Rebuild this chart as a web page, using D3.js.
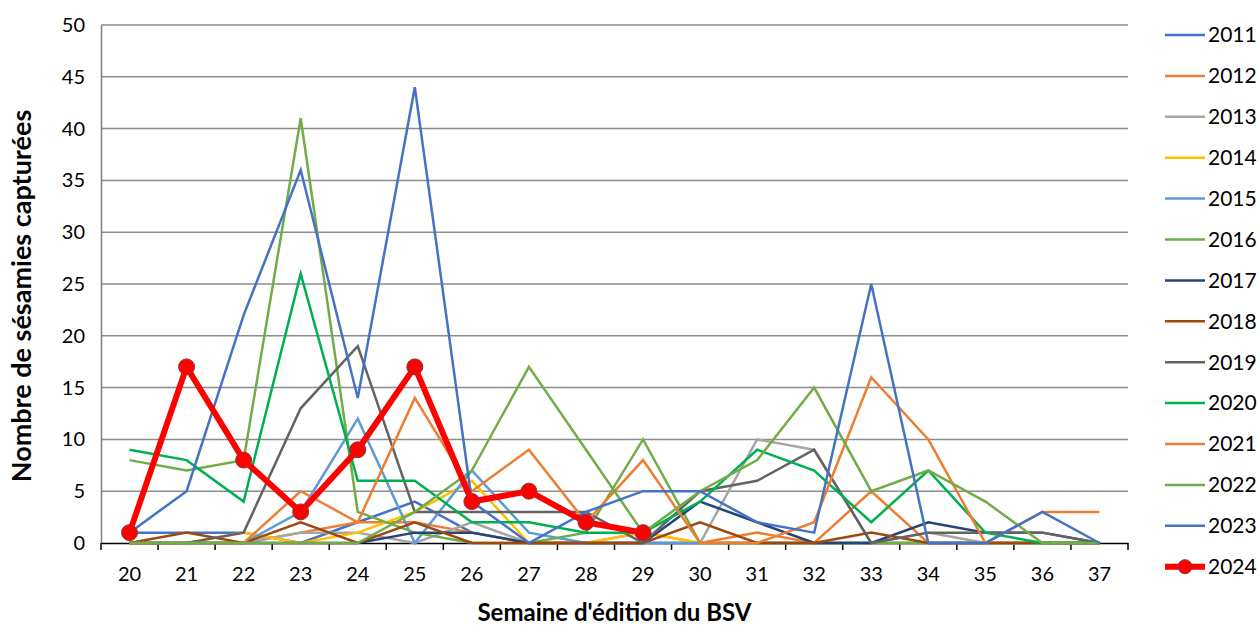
<!DOCTYPE html>
<html>
<head>
<meta charset="utf-8">
<script src="https://cdn.jsdelivr.net/npm/d3@7"></script>
<style>
  body { margin: 0; background: #fff; }
  svg { display: block; font-family: Lato, "Open Sans", sans-serif; }
</style>
</head>
<body>
<div id="chart"></div>
<script>
// weeks of the BSV
var weeks = [20, 21, 22, 23, 24, 25, 26, 27, 28, 29, 30, 31, 32, 33, 34, 35, 36, 37];
var yTicks = [0, 5, 10, 15, 20, 25, 30, 35, 40, 45, 50];

var years = ["2011", "2012", "2013", "2014", "2015", "2016", "2017", "2018", "2019", "2020", "2021", "2022", "2023", "2024"];
var colors = ["#4472C4", "#ED7D31", "#A5A5A5", "#FFC000", "#5B9BD5", "#70AD47", "#264478", "#9E480E", "#636363", "#00B050", "#ED7D31", "#70AD47", "#4472C4", "#FF0000"];

var v2011 = [1, 1, 1, 0, 2, 4, 1, 0, 0, 0, 0, 0, 0, 0, 0, 0, 0, 0];
var v2012 = [0, 0, 0, 1, 2, 2, 1, 0, 0, 0, 0, 1, 0, 5, 0, 0, 0, 0];
var v2013 = [0, 0, 0, 1, 1, 0, 2, 0, 0, 1, 0, 10, 9, 0, 1, 0, 0, 0];
var v2014 = [0, 0, 1, 0, 1, 3, 6, 0, 0, 1, 0, 0, 0, 0, 0, 0, 0, 0];
var v2015 = [0, 0, 0, 3, 12, 0, 7, 1, 0, 0, 0, 0, 0, 0, 0, 0, 0, 0];
var v2016 = [8, 7, 8, 41, 3, 1, 0, 0, 1, 10, 0, 0, 0, 0, 0, 0, 0, 0];
var v2017 = [0, 0, 0, 0, 0, 1, 1, 0, 0, 0, 4, 2, 0, 0, 2, 1, 1, 0];
var v2018 = [0, 1, 0, 2, 0, 2, 0, 0, 0, 0, 2, 0, 0, 1, 0, 0, 0, 0];
var v2019 = [0, 0, 1, 13, 19, 3, 3, 3, 3, 0, 5, 6, 9, 0, 1, 1, 1, 0];
var v2020 = [9, 8, 4, 26, 6, 6, 2, 2, 1, 1, 4, 9, 7, 2, 7, 1, 0, 0];
var v2021 = [0, 0, 0, 5, 2, 14, 5, 9, 2, 8, 0, 0, 2, 16, 10, 0, 3, 3];
var v2022 = [0, 0, 0, 0, 0, 3, 7, 17, 9, 1, 5, 8, 15, 5, 7, 4, 0, 0];
var v2023 = [1, 5, 22, 36, 14, 44, 4, 0, 3, 5, 5, 2, 1, 25, 0, 0, 3, 0];
var v2024 = [1, 17, 8, 3, 9, 17, 4, 5, 2, 1, null, null, null, null, null, null, null, null];

var values = [v2011, v2012, v2013, v2014, v2015, v2016, v2017, v2018, v2019, v2020, v2021, v2022, v2023, v2024];

var width = 1260, height = 630;
var plotLeft = 101, plotRight = 1128, plotTop = 25, plotBottom = 543;

var svg = d3.select("#chart").append("svg")
    .attr("width", width)
    .attr("height", height);

var x = d3.scaleBand().domain(weeks).range([plotLeft, plotRight]);
var y = d3.scaleLinear().domain([0, 50]).range([plotBottom, plotTop]);
var cx = function (w) { return x(w) + x.bandwidth() / 2; };

// horizontal grid
svg.append("g").selectAll("line").data(yTicks.filter(function (t) { return t > 0; })).enter()
    .append("line")
    .attr("x1", plotLeft).attr("x2", plotRight)
    .attr("y1", function (d) { return y(d); })
    .attr("y2", function (d) { return y(d); })
    .attr("stroke", "#8c8c8c")
    .attr("stroke-width", 1.5);

// y axis
var yAxis = svg.append("g")
    .attr("transform", "translate(" + plotLeft + ",0)")
    .call(d3.axisLeft(y).tickValues(yTicks).tickSize(0).tickPadding(16));
yAxis.select(".domain").attr("stroke", "#7f7f7f").attr("stroke-width", 1.5);
yAxis.selectAll("text").attr("font-size", 20).attr("fill", "#000").attr("font-family", "Lato, sans-serif");

// x axis with ticks between categories
var xAxis = svg.append("g")
    .attr("transform", "translate(0," + plotBottom + ")")
    .call(d3.axisBottom(x).tickSize(0).tickPadding(24));
xAxis.select(".domain").attr("stroke", "#000").attr("stroke-width", 1.5);
xAxis.selectAll("text").attr("font-size", 20).attr("fill", "#000").attr("font-family", "Lato, sans-serif");

var bounds = weeks.map(function (w) { return x(w); }).concat([plotRight]);
svg.append("g").selectAll("line").data(bounds).enter()
    .append("line")
    .attr("x1", function (d) { return d; })
    .attr("x2", function (d) { return d; })
    .attr("y1", plotBottom).attr("y2", plotBottom + 7)
    .attr("stroke", "#000")
    .attr("stroke-width", 1.5);

// lines
var line = d3.line()
    .defined(function (d) { return d.v !== null; })
    .x(function (d) { return cx(d.w); })
    .y(function (d) { return y(d.v); });

var series = years.map(function (yr, i) {
    return {
        year: yr,
        color: colors[i],
        points: weeks.map(function (w, j) { return { w: w, v: values[i][j] }; })
    };
});

svg.append("g").selectAll("path").data(series).enter()
    .append("path")
    .attr("fill", "none")
    .attr("stroke", function (d) { return d.color; })
    .attr("stroke-width", function (d) { return d.year === "2024" ? 6 : 2.5; })
    .attr("stroke-linejoin", "miter")
    .attr("d", function (d) { return line(d.points); });

var last = series[series.length - 1];
svg.append("g").selectAll("circle")
    .data(last.points.filter(function (p) { return p.v !== null; })).enter()
    .append("circle")
    .attr("cx", function (d) { return cx(d.w); })
    .attr("cy", function (d) { return y(d.v); })
    .attr("r", 8)
    .attr("fill", "#FF0000")
    .attr("stroke", "#7f3f3f")
    .attr("stroke-width", 1);

// legend
var legend = svg.append("g").selectAll("g").data(series).enter()
    .append("g")
    .attr("transform", function (d, i) { return "translate(1165," + (35 + i * 40.9) + ")"; });

legend.append("line")
    .attr("x1", 0).attr("x2", 40)
    .attr("stroke", function (d) { return d.color; })
    .attr("stroke-width", function (d) { return d.year === "2024" ? 6 : 2.5; });

legend.filter(function (d) { return d.year === "2024"; })
    .append("circle")
    .attr("cx", 20).attr("r", 7)
    .attr("fill", "#FF0000")
    .attr("stroke", "#7f3f3f");

legend.append("text")
    .attr("x", 43)
    .attr("dy", "0.35em")
    .attr("font-size", 21)
    .text(function (d) { return d.year; });

// axis titles
svg.append("text")
    .attr("transform", "translate(31," + ((plotTop + plotBottom) / 2 + 12) + ") rotate(-90)")
    .attr("text-anchor", "middle")
    .attr("font-size", 27)
    .attr("font-weight", "bold")
    .text("Nombre de sésamies capturées");

svg.append("text")
    .attr("x", (plotLeft + plotRight) / 2)
    .attr("y", 621)
    .attr("text-anchor", "middle")
    .attr("font-size", 24)
    .attr("font-weight", "bold")
    .text("Semaine d'édition du BSV");
</script>
</body>
</html>
